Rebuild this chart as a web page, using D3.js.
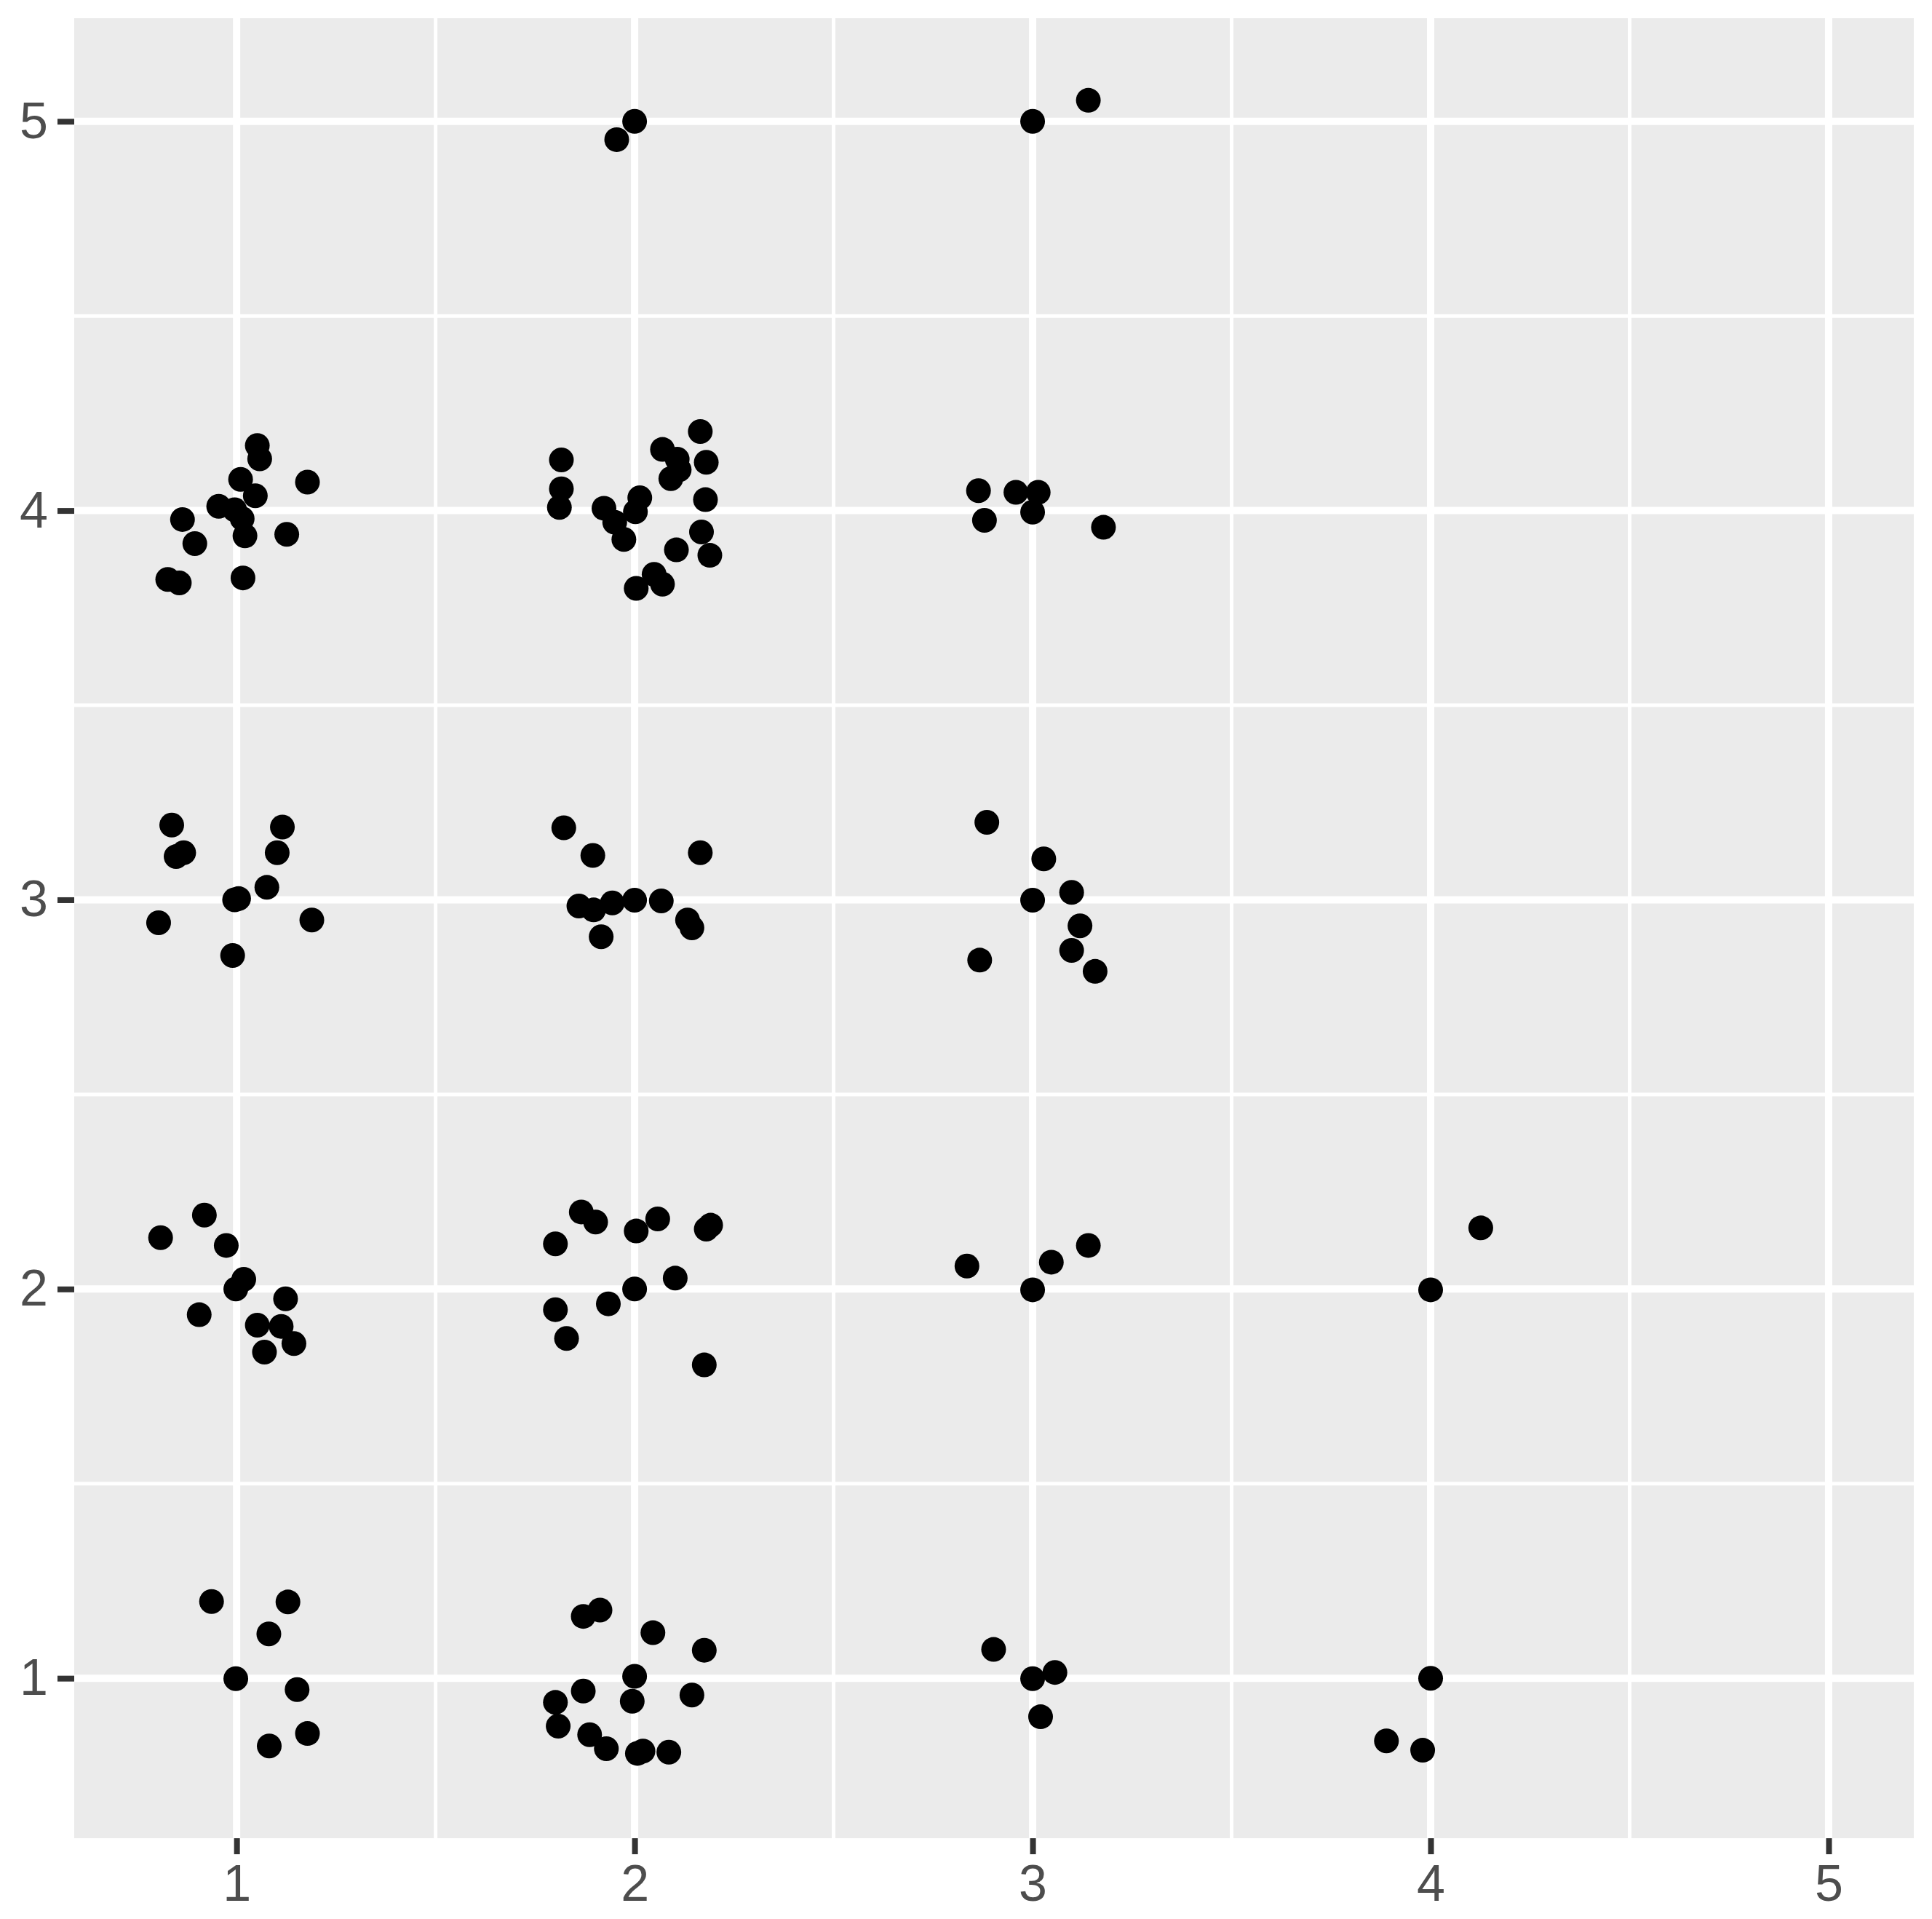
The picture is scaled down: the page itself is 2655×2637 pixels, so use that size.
<!DOCTYPE html>
<html>
<head>
<meta charset="utf-8">
<script src="https://cdn.jsdelivr.net/npm/d3@7"></script>
<style>
  body { margin: 0; background: #fff; }
  svg { display: block; }
  .axis text { font-family: "Liberation Sans", Arial, sans-serif; font-size: 70px; fill: #4d4d4d; }
  .axis line { stroke: #333; stroke-width: 8; }
</style>
</head>
<body>
<svg id="chart" width="2655" height="2637"></svg>
<script>
// jittered points, grouped by the cell they sit around
const jitterX = [
  2.000, 1.955, 3.000, 3.140,
  0.864, 0.895, 0.827, 0.856, 1.016, 1.021, 1.126, 0.955, 0.995, 1.014, 1.010, 1.047, 1.052, 1.058, 1.178,
  1.816, 1.816, 1.811, 1.923, 1.950, 1.973, 2.013, 2.002, 2.070, 2.107, 2.091, 2.112, 2.165, 2.180, 2.178, 2.168, 2.189, 2.105, 2.049, 2.070, 2.004,
  2.864, 2.879, 2.958, 3.014, 3.000, 3.178,
  0.837, 0.848, 0.867, 1.115, 1.102, 1.076, 0.995, 1.005, 0.804, 1.189, 0.990,
  1.822, 1.895, 2.165, 1.860, 1.897, 1.944, 2.000, 2.067, 2.133, 2.144, 1.916,
  2.885, 3.028, 3.098, 3.000, 3.119, 3.098, 2.867, 3.157,
  0.919, 0.809, 0.974, 1.018, 0.998, 1.123, 0.906, 1.052, 1.112, 1.144, 1.070,
  1.866, 1.902, 2.004, 2.058, 1.801, 2.180, 2.191, 2.102, 2.000, 1.934, 1.801, 1.829, 2.175,
  2.835, 3.000, 3.047, 3.140, 4.000, 4.126,
  0.937, 1.129, 1.081, 0.998, 1.152, 1.082, 1.178,
  1.871, 1.913, 2.046, 2.175, 2.000, 1.994, 1.871, 1.801, 1.808, 1.887, 1.929, 2.007, 2.021, 2.086, 2.144,
  2.902, 3.000, 3.056, 3.020, 4.000, 3.889, 3.980
];
const jitterY = [
  5.000, 4.953, 5.000, 5.054,
  3.977, 3.915, 3.823, 3.814, 3.827, 3.935, 3.939, 4.011, 4.002, 3.979, 4.080, 4.038, 4.167, 4.133, 4.073,
  4.130, 4.056, 4.008, 4.006, 3.970, 3.926, 4.033, 3.997, 4.157, 4.132, 4.082, 4.105, 4.203, 4.124, 4.028, 3.945, 3.885, 3.899, 3.836, 3.811, 3.800,
  4.051, 3.975, 4.047, 4.047, 3.996, 3.957,
  3.192, 3.111, 3.121, 3.187, 3.121, 3.032, 3.000, 3.003, 2.941, 2.948, 2.857,
  3.185, 3.114, 3.121, 2.984, 2.974, 2.992, 2.999, 2.997, 2.948, 2.928, 2.905,
  3.199, 3.105, 3.019, 2.999, 2.933, 2.870, 2.845, 2.816,
  2.190, 2.132, 2.112, 2.025, 2.000, 1.975, 1.934, 1.907, 1.904, 1.860, 1.838,
  2.198, 2.172, 2.149, 2.180, 2.116, 2.154, 2.164, 2.028, 2.000, 1.962, 1.947, 1.873, 1.805,
  2.059, 1.998, 2.069, 2.112, 1.998, 2.157,
  1.197, 1.196, 1.114, 0.999, 0.971, 0.826, 0.858,
  1.159, 1.175, 1.117, 1.072, 1.005, 0.941, 0.967, 0.938, 0.877, 0.855, 0.819, 0.807, 0.813, 0.810, 0.957,
  1.074, 0.999, 1.015, 0.901, 1.000, 0.839, 0.815
];

const xTicks = [1, 2, 3, 4, 5];
const yTicks = [1, 2, 3, 4, 5];
const xMinor = [1.5, 2.5, 3.5, 4.5];
const yMinor = [1.5, 2.5, 3.5, 4.5];

const svg = d3.select('svg#chart');
const panel = { left: 102, top: 25, right: 2630, bottom: 2526 };

const x = d3.scaleLinear().domain([0.592, 5.214]).range([panel.left, panel.right]);
const y = d3.scaleLinear().domain([0.589, 5.265]).range([panel.bottom, panel.top]);

svg.append('rect')
  .attr('x', panel.left).attr('y', panel.top)
  .attr('width', panel.right - panel.left)
  .attr('height', panel.bottom - panel.top)
  .attr('fill', '#ebebeb');

const grid = svg.append('g');
// minor grid
grid.selectAll('line.xminor').data(xMinor).enter().append('line')
  .attr('x1', d => x(d)).attr('x2', d => x(d))
  .attr('y1', panel.top).attr('y2', panel.bottom)
  .attr('stroke', '#fff').attr('stroke-width', 5);
grid.selectAll('line.yminor').data(yMinor).enter().append('line')
  .attr('y1', d => y(d)).attr('y2', d => y(d))
  .attr('x1', panel.left).attr('x2', panel.right)
  .attr('stroke', '#fff').attr('stroke-width', 5);
// major grid
grid.selectAll('line.xmajor').data(xTicks).enter().append('line')
  .attr('x1', d => x(d)).attr('x2', d => x(d))
  .attr('y1', panel.top).attr('y2', panel.bottom)
  .attr('stroke', '#fff').attr('stroke-width', 10);
grid.selectAll('line.ymajor').data(yTicks).enter().append('line')
  .attr('y1', d => y(d)).attr('y2', d => y(d))
  .attr('x1', panel.left).attr('x2', panel.right)
  .attr('stroke', '#fff').attr('stroke-width', 10);

// points
const idx = d3.range(jitterX.length);
svg.append('g').selectAll('circle').data(idx).enter().append('circle')
  .attr('cx', i => x(jitterX[i]))
  .attr('cy', i => y(jitterY[i]))
  .attr('r', 17)
  .attr('fill', '#000');

// axes
const xAxis = svg.append('g').classed('axis', true)
  .attr('transform', 'translate(0,' + panel.bottom + ')')
  .call(d3.axisBottom(x).tickValues(xTicks).tickSize(22).tickPadding(14).tickSizeOuter(0).tickFormat(d3.format('d')));
const yAxis = svg.append('g').classed('axis', true)
  .attr('transform', 'translate(' + panel.left + ',0)')
  .call(d3.axisLeft(y).tickValues(yTicks).tickSize(23).tickPadding(13).tickSizeOuter(0).tickFormat(d3.format('d')));
xAxis.select('.domain').remove();
yAxis.select('.domain').remove();
</script>
</body>
</html>
